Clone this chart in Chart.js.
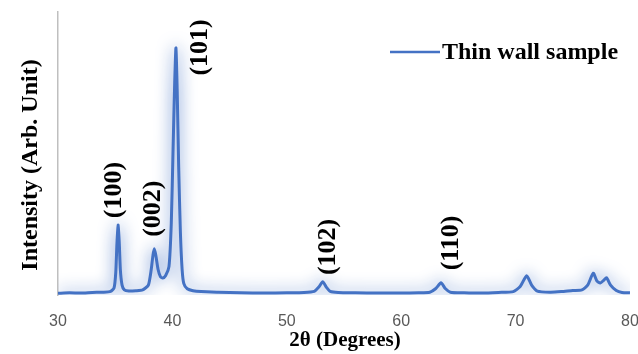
<!DOCTYPE html>
<html>
<head>
<meta charset="utf-8">
<script src="https://cdn.jsdelivr.net/npm/chart.js@4/dist/chart.umd.min.js"></script>
<style>
html,body{margin:0;padding:0;background:#fff;}
#wrap{width:638px;height:354px;position:relative;}
</style>
</head>
<body>
<div id="wrap"><canvas id="c" width="638" height="354"></canvas></div>
<script>
// 2θ positions (degrees)
const twoTheta = [30.0,31.0,32.0,33.0,34.0,34.6,34.9,35.05,35.15,35.25,35.35,35.45,35.6,35.8,36.2,36.8,37.4,37.9,38.15,38.3,38.42,38.55,38.75,38.95,39.15,39.4,39.7,39.9,40.05,40.2,40.31,40.42,40.55,40.7,40.85,41.0,41.3,41.8,42.5,44.0,46.0,48.0,50.0,51.5,52.4,52.8,53.14,53.45,53.8,54.5,56.0,58.0,60.0,61.5,62.5,63.0,63.48,63.85,64.3,65.5,67.0,68.5,69.8,70.4,70.97,71.4,71.9,73.0,74.0,75.0,75.8,76.3,76.79,77.1,77.4,77.7,77.95,78.3,78.8,79.3,80.0];
// Intensity (arbitrary units)
const intensity = [0.6,0.8,0.7,0.9,1.0,1.3,2.5,8,18,24.7,19,9,3.5,1.8,1.4,1.5,1.8,3.5,9,14,16.3,14,9,6.5,6.0,6.8,10,25,50,75,87.3,72,45,22,9,4,2.2,1.5,1.2,1.0,0.8,0.7,0.8,0.9,1.3,2.8,4.7,2.8,1.3,0.9,0.8,0.7,0.7,0.8,1.0,2.2,4.3,2.3,1.0,0.8,0.7,0.9,1.2,3.0,6.8,3.5,1.4,1.0,1.2,1.6,1.8,3.5,7.7,5.0,4.2,5.2,6.1,3.5,1.6,0.9,0.8];
// Peak labels (Miller indices) and their anchor points in data units
const peakLabels = ["(100)","(002)","(101)","(102)","(110)"];
const peakLabelX = [34.95,38.35,42.45,53.6,64.35];
const peakLabelY = [37.1,30.5,87.5,17.0,18.4];
const xTicks = [30,40,50,60,70,80];
const seriesName = "Thin wall sample";
const xTitle = "2θ (Degrees)";
const yTitle = "Intensity (Arb. Unit)";

const LINE = '#4472C4';
const SERIF = '"Liberation Serif","Times New Roman",serif';

const glow = {
  id:'glow',
  beforeDatasetDraw(chart){ const c=chart.ctx; c.save(); c.shadowColor='rgba(68,114,196,0.95)'; c.shadowBlur=16; },
  afterDatasetDraw(chart){ chart.ctx.restore(); }
};

const texts = {
  id:'texts',
  afterDraw(chart){
    const c = chart.ctx, xs = chart.scales.x, ys = chart.scales.y;
    c.save();
    c.fillStyle = '#000';
    c.textAlign='center'; c.textBaseline='middle';
    c.font = 'bold 26px ' + SERIF;
    peakLabels.forEach((t,i)=>{
      const px = xs.getPixelForValue(peakLabelX[i]);
      const py = ys.getPixelForValue(peakLabelY[i]);
      c.save(); c.translate(px,py); c.rotate(-Math.PI/2); c.fillText(t,0,0); c.restore();
    });
    c.font = 'bold 24px ' + SERIF;
    c.save(); c.translate(31,165); c.rotate(-Math.PI/2); c.fillText(yTitle,0,0); c.restore();
    c.font = 'bold 21px ' + SERIF;
    c.fillText(xTitle, 345, 341);
    c.strokeStyle = LINE; c.lineWidth = 2.5;
    c.beginPath(); c.moveTo(390,52); c.lineTo(440,52); c.stroke();
    c.font = 'bold 24px ' + SERIF;
    c.textAlign='left';
    c.fillText(seriesName, 442, 53);
    c.restore();
  }
};

new Chart(document.getElementById('c'), {
  type:'line',
  data:{
    datasets:[{
      label: seriesName,
      data: twoTheta.map((x,i)=>({x:x, y:intensity[i]})),
      borderColor: LINE,
      borderWidth: 3,
      pointRadius: 0,
      tension: 0.2,
      fill: false
    }]
  },
  options:{
    responsive:false,
    animation:false,
    events:[],
    layout:{padding:{left:58, right:8, top:12, bottom:0}},
    plugins:{legend:{display:false}, tooltip:{enabled:false}},
    scales:{
      x:{
        type:'linear', min:30, max:80,
        afterBuildTicks(s){ s.ticks = xTicks.map(v=>({value:v})); },
        afterFit(s){ s.height = 59; s.paddingLeft = 0; s.paddingRight = 0; },
        grid:{display:false, drawTicks:false},
        border:{display:false},
        ticks:{font:{family:'"Liberation Sans",Arial,sans-serif', size:16}, color:'#595959', padding:17, maxRotation:0}
      },
      y:{
        min:0, max:100,
        afterFit(s){ s.width = 0; s.paddingTop = 0; s.paddingBottom = 0; },
        grid:{display:false, drawTicks:false},
        border:{display:true, color:'#BFBFBF', width:1.5},
        ticks:{display:false}
      }
    }
  },
  plugins:[glow, texts]
});
</script>
</body>
</html>
